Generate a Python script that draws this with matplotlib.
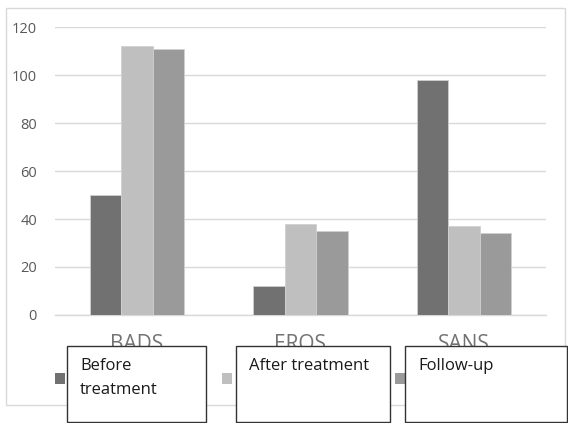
import matplotlib
matplotlib.use("Agg")
import matplotlib.pyplot as plt
from matplotlib.patches import Rectangle
import numpy as np

categories = ["BADS", "EROS", "SANS"]
series_names = ["Before\ntreatment", "After treatment", "Follow-up"]
before = [50, 12, 98]
after = [112, 38, 37]
follow = [111, 35, 34]
yticks = [0, 20, 40, 60, 80, 100, 120]

colors = ["#717171", "#bfbfbf", "#9a9a9a"]
W, H = 568, 423
fig = plt.figure(figsize=(W / 100, H / 100), dpi=100)
fig.patch.set_facecolor("white")

def fx(x):
    return x / W

def fy(y):
    return 1 - y / H

# outer chart border
fig.patches.append(Rectangle((fx(6), fy(405)), fx(565) - fx(6), fy(8) - fy(405),
                             transform=fig.transFigure, fill=False,
                             edgecolor="#d9d9d9", linewidth=1.0, zorder=0))

ax = fig.add_axes([fx(55), fy(315), fx(546) - fx(55), fy(27) - fy(315)])
x = np.arange(len(categories))
bw = 0.192
for i, vals in enumerate([before, after, follow]):
    ax.bar(x + (i - 1) * bw, vals, width=bw, color=colors[i],
           edgecolor="#d0d0d0", linewidth=0.6, zorder=3)

ax.set_xlim(-0.5, 2.5)
ax.set_ylim(0, 120)
ax.set_yticks(yticks)
ax.set_yticklabels([str(t) for t in yticks], fontsize=10.5, color="#595959",
                   family="Open Sans")
ax.set_xticks(x)
ax.set_xticklabels(categories, fontsize=15, color="#737373", family="Open Sans")
ax.tick_params(axis="both", length=0)
ax.tick_params(axis="y", pad=13)
ax.tick_params(axis="x", pad=14)
ax.grid(axis="y", color="#d9d9d9", linewidth=1.0, zorder=0)
ax.set_axisbelow(True)
for s in ["top", "right", "left"]:
    ax.spines[s].set_visible(False)
ax.spines["bottom"].set_color("#d9d9d9")
ax.spines["bottom"].set_linewidth(1.0)

# legend squares
for sx, c in zip([55, 222, 395], colors):
    fig.patches.append(Rectangle((fx(sx), fy(384)), fx(10), 11 / H,
                                 transform=fig.transFigure, facecolor=c,
                                 edgecolor="none", zorder=5))

# white text boxes overlapping legend
boxes = [(67, 206), (236, 390), (405, 567)]
for (x0, x1), name in zip(boxes, series_names):
    fig.patches.append(Rectangle((fx(x0), fy(422)), fx(x1) - fx(x0), fy(346) - fy(422),
                                 transform=fig.transFigure, facecolor="white",
                                 edgecolor="#333333", linewidth=1.0, zorder=6))
    fig.text(fx(x0 + 13), fy(358), name, fontsize=12, color="#1a1a1a",
             family="Open Sans", va="top", ha="left", linespacing=1.65, zorder=7)

fig.savefig("out.png", dpi=100)
